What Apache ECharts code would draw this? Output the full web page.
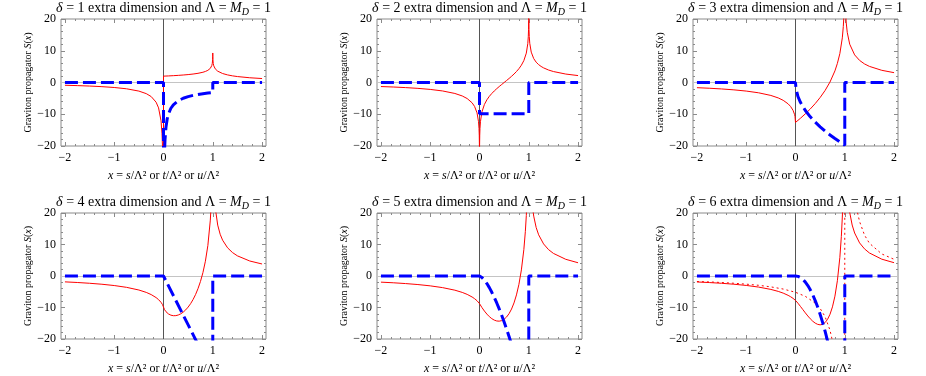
<!DOCTYPE html>
<html><head><meta charset="utf-8">
<script src="https://cdn.jsdelivr.net/npm/echarts@6/dist/echarts.min.js"></script>
<style>html,body{margin:0;padding:0;background:#fff}#c{width:926px;height:376px}</style>
</head><body><div id="c"></div>
<script>
// ---------------- data ----------------
const deltas = [1, 2, 3, 4, 5, 6];
const xTickLabels = [-2, -1, 0, 1, 2];
const yTickLabels = [-20, -10, 0, 10, 20];

// delta = 1
const re1 = [[-2,-0.870],[-1.75,-0.979],[-1.5,-1.118],[-1.25,-1.305],[-1,-1.571],[-0.75,-1.979],[-0.5,-2.702],[-0.35,-3.504],[-0.25,-4.428],[-0.15,-6.203],[-0.1,-7.997],[-0.05,-12.08],[-0.03,-16.16],[-0.02,-20.23],[-0.01,-29.4],[0,-60],[0,2.0],[0.02,2.014],[0.05,2.035],[0.1,2.071],[0.2,2.152],[0.3,2.246],[0.4,2.358],[0.5,2.493],[0.6,2.664],[0.7,2.891],[0.8,3.228],[0.85,3.479],[0.9,3.833],[0.95,4.462],[0.98,5.342],[0.99,6.017],[0.997,7.2],[0.999,8.29],[1,9.3],[1.001,8.29],[1.003,7.2],[1.01,5.96],[1.02,5.256],[1.05,4.300],[1.1,3.563],[1.2,2.820],[1.3,2.391],[1.4,2.094],[1.5,1.872],[1.75,1.492],[2,1.247]];
const im1 = [[-2,0],[0,0],[0,-60],[0.005,-44.4],[0.01,-31.4],[0.02,-22.2],[0.03,-18.14],[0.05,-14.05],[0.075,-11.47],[0.1,-9.93],[0.15,-8.11],[0.2,-7.02],[0.3,-5.74],[0.4,-4.97],[0.5,-4.44],[0.6,-4.06],[0.7,-3.75],[0.8,-3.51],[0.9,-3.31],[1,-3.14],[1,0],[2,0]];

// delta = 2
const re2 = [[-2,-1.274],[-1.75,-1.420],[-1.5,-1.605],[-1.25,-1.847],[-1,-2.178],[-0.75,-2.662],[-0.5,-3.451],[-0.35,-4.241],[-0.25,-5.056],[-0.15,-6.399],[-0.1,-7.533],[-0.05,-9.565],[-0.02,-12.352],[-0.01,-14.499],[-0.005,-16.66],[-0.002,-19.53],[0,-40],[0.002,-19.52],[0.005,-16.63],[0.01,-14.436],[0.02,-12.226],[0.05,-9.250],[0.1,-6.903],[0.15,-5.449],[0.2,-4.355],[0.25,-3.451],[0.3,-2.662],[0.35,-1.945],[0.4,-1.274],[0.45,-0.630],[0.5,0],[0.55,0.630],[0.6,1.274],[0.65,1.945],[0.7,2.662],[0.75,3.451],[0.8,4.355],[0.85,5.449],[0.9,6.903],[0.95,9.250],[0.98,12.226],[0.99,14.436],[0.995,16.63],[0.998,19.52],[1,40],[1.002,19.53],[1.005,16.66],[1.01,14.499],[1.02,12.352],[1.05,9.565],[1.1,7.533],[1.15,6.399],[1.2,5.629],[1.25,5.056],[1.3,4.607],[1.4,3.936],[1.5,3.451],[1.75,2.662],[2,2.178]];
const im2 = [[-2,0],[0,0],[0,-9.87],[1,-9.87],[1,0],[2,0]];

// delta = 3
const re3 = [[-2,-1.629],[-1.75,-1.807],[-1.5,-2.028],[-1.25,-2.314],[-1,-2.697],[-0.75,-3.239],[-0.5,-4.078],[-0.35,-4.861],[-0.25,-5.611],[-0.15,-6.720],[-0.1,-7.542],[-0.05,-8.771],[-0.02,-10.024],[-0.01,-10.719],[-0.005,-11.233],[0,-12.566],[0.005,-12.50],[0.02,-12.313],[0.05,-11.927],[0.1,-11.265],[0.2,-9.862],[0.3,-8.333],[0.4,-6.640],[0.5,-4.734],[0.6,-2.523],[0.7,0.149],[0.8,3.659],[0.85,6.014],[0.9,9.109],[0.95,14.067],[0.97,17.62],[0.98,20.33],[0.99,24.86],[1,40],[1.01,25.28],[1.02,21.12],[1.03,18.73],[1.05,15.80],[1.1,12.06],[1.2,8.696],[1.3,6.963],[1.4,5.854],[1.5,5.077],[1.75,3.839],[2,3.098]];
const im3 = [[-2,0],[0,0],[0.01,-1.974],[0.05,-4.414],[0.1,-6.242],[0.2,-8.828],[0.3,-10.81],[0.4,-12.48],[0.5,-13.96],[0.6,-15.29],[0.7,-16.52],[0.8,-17.66],[0.9,-18.73],[1,-19.74],[1,0],[2,0]];

// delta = 4
const re4 = [[-2,-1.865],[-1.75,-2.063],[-1.5,-2.308],[-1.25,-2.618],[-1,-3.029],[-0.75,-3.598],[-0.5,-4.448],[-0.35,-5.206],[-0.25,-5.898],[-0.15,-6.854],[-0.1,-7.503],[-0.05,-8.367],[-0.02,-9.094],[-0.01,-9.414],[0,-9.870],[0.01,-10.323],[0.02,-10.637],[0.05,-11.322],[0.1,-12.038],[0.15,-12.438],[0.2,-12.606],[0.25,-12.581],[0.3,-12.378],[0.35,-12.008],[0.4,-11.470],[0.45,-10.761],[0.5,-9.870],[0.55,-8.780],[0.6,-7.468],[0.65,-5.898],[0.7,-4.016],[0.75,-1.737],[0.8,1.076],[0.85,4.682],[0.9,9.648],[0.95,17.738],[0.97,23.41],[1,40],[1.03,26.08],[1.05,21.68],[1.1,16.163],[1.15,13.249],[1.2,11.350],[1.3,8.944],[1.4,7.441],[1.5,6.395],[1.75,4.765],[2,3.813]];
const im4 = [[-2,0],[0,0],[1,-31.01],[1,0],[2,0]];

// delta = 5
const re5 = [[-2,-1.951],[-1.75,-2.150],[-1.5,-2.404],[-1.25,-2.716],[-1,-3.125],[-0.75,-3.686],[-0.5,-4.503],[-0.35,-5.210],[-0.25,-5.835],[-0.15,-6.662],[-0.1,-7.194],[-0.05,-7.855],[-0.02,-8.353],[0,-8.773],[0.02,-9.289],[0.05,-10.022],[0.1,-11.133],[0.15,-12.096],[0.2,-12.904],[0.25,-13.546],[0.3,-14.010],[0.35,-14.279],[0.4,-14.336],[0.45,-14.164],[0.5,-13.731],[0.55,-13.007],[0.6,-11.945],[0.65,-10.487],[0.7,-8.555],[0.75,-5.998],[0.8,-2.643],[0.85,1.933],[0.9,8.396],[0.93,14.074],[0.95,19.217],[0.97,27.02],[1,40],[1.03,31.63],[1.05,25.98],[1.07,22.49],[1.1,19.009],[1.15,15.40],[1.2,13.082],[1.3,10.187],[1.4,8.389],[1.5,7.176],[1.75,5.298],[2,4.202]];
const im5 = [[-2,0],[0,0],[0.05,-0.462],[0.1,-1.307],[0.15,-2.402],[0.2,-3.698],[0.25,-5.168],[0.3,-6.793],[0.35,-8.561],[0.4,-10.459],[0.45,-12.48],[0.5,-14.616],[0.55,-16.863],[0.6,-19.214],[0.65,-21.666],[0.7,-24.21],[0.8,-29.58],[1,-41.34],[1,0],[2,0]];

// delta = 6
const re6 = [[-2,-1.890],[-1.75,-2.082],[-1.5,-2.315],[-1.25,-2.611],[-1,-2.994],[-0.75,-3.513],[-0.5,-4.258],[-0.35,-4.889],[-0.25,-5.435],[-0.15,-6.137],[-0.1,-6.573],[-0.05,-7.094],[0,-7.752],[0.05,-8.641],[0.1,-9.643],[0.15,-10.681],[0.2,-11.712],[0.25,-12.692],[0.3,-13.585],[0.35,-14.353],[0.4,-14.958],[0.45,-15.357],[0.5,-15.503],[0.55,-15.337],[0.6,-14.790],[0.65,-13.774],[0.7,-12.167],[0.75,-9.798],[0.8,-6.400],[0.85,-1.501],[0.9,5.887],[0.93,12.514],[0.95,18.717],[0.97,26.37],[1,40],[1.03,34.44],[1.05,28.01],[1.07,24.06],[1.1,20.177],[1.15,16.182],[1.2,13.646],[1.3,10.511],[1.4,8.612],[1.5,7.316],[1.75,5.345],[2,4.226]];
const dot6 = [[-2,-1.75],[-1.75,-1.88],[-1.5,-2.07],[-1.25,-2.3],[-1,-2.59],[-0.75,-2.95],[-0.5,-3.45],[-0.25,-4.14],[0,-5.17],[0.2,-6.46],[0.4,-8.62],[0.5,-10.3],[0.6,-12.9],[0.7,-17.2],[0.75,-20.7],[0.8,-25.8],[0.9,-51.7],[1,-80],[1,80],[1.1,51.7],[1.2,25.9],[1.25,20.7],[1.3,17.3],[1.4,13.0],[1.5,10.4],[1.75,7.0],[2,5.3]];
const im6 = [[-2,0],[0,0],[0.05,-0.122],[0.1,-0.487],[0.15,-1.096],[0.2,-1.948],[0.25,-3.044],[0.3,-4.383],[0.35,-5.966],[0.4,-7.793],[0.45,-9.863],[0.5,-12.18],[0.55,-14.73],[0.6,-17.53],[0.65,-20.58],[0.7,-23.87],[0.8,-31.17],[1,-48.7],[1,0],[2,0]];

const panels = [
  {re: re1, im: im1},
  {re: re2, im: im2},
  {re: re3, im: im3},
  {re: re4, im: im4},
  {re: re5, im: im5},
  {re: re6, im: im6, dot: dot6}
];

// ---------------- layout / style ----------------
const FONT = '"Liberation Serif","Times New Roman",serif';
const gridPos = [[61,19,127],[377,19,127],[693,19,127],[61,213,128],[377,213,128],[693,213,128]];
const GW = 205;
const XMIN = -2.08, XMAX = 2.08;
const FRAME = '#8a8a8a';
const minorX = [];
for (let k = -10; k <= 10; k++) { if (k % 5 !== 0) minorX.push(k / 5); }
const fmt = v => (v < 0 ? '\u2212' + Math.abs(v) : String(v));
const noLine = {show: false, onZero: false};

const grids = [], xAxes = [], yAxes = [], series = [], graphics = [];
panels.forEach((p, i) => {
  const [l, t, h] = gridPos[i];
  grids.push({left: l, top: t, width: GW, height: h, show: true, borderColor: FRAME, borderWidth: 1, backgroundColor: 'transparent'});
  const base = {gridIndex: i, type: 'value', min: XMIN, max: XMAX, splitLine: {show: false}, axisLine: noLine};
  const xi = xAxes.length;
  xAxes.push(Object.assign({}, base, {
    position: 'bottom',
    axisTick: {inside: true, length: 4, lineStyle: {color: FRAME}, customValues: xTickLabels},
    axisLabel: {customValues: xTickLabels, formatter: fmt, fontFamily: FONT, fontSize: 12, color: '#000', margin: 6},
    name: '{i|x} = {i|s}/\u039B\u00B2 or {i|t}/\u039B\u00B2 or {i|u}/\u039B\u00B2',
    nameLocation: 'middle', nameGap: 24,
    nameTextStyle: {fontFamily: FONT, fontSize: 12, color: '#000', rich: {i: {fontFamily: FONT, fontSize: 12, fontStyle: 'italic', color: '#000'}}}
  }));
  xAxes.push(Object.assign({}, base, {position: 'bottom', axisTick: {inside: true, length: 2, lineStyle: {color: FRAME}, customValues: minorX}, axisLabel: {show: false}}));
  xAxes.push(Object.assign({}, base, {position: 'top', axisTick: {inside: true, length: 4, lineStyle: {color: FRAME}, customValues: xTickLabels}, axisLabel: {show: false}}));
  xAxes.push(Object.assign({}, base, {position: 'top', axisTick: {inside: true, length: 2, lineStyle: {color: FRAME}, customValues: minorX}, axisLabel: {show: false}}));
  const ybase = {gridIndex: i, type: 'value', min: -20, max: 20, interval: 10, splitLine: {show: false}, axisLine: noLine,
    axisTick: {inside: true, length: 4, lineStyle: {color: FRAME}},
    minorTick: {show: true, splitNumber: 5, length: 2, lineStyle: {color: FRAME}}};
  const yi = yAxes.length;
  yAxes.push(Object.assign({}, ybase, {
    position: 'left',
    axisLabel: {formatter: fmt, fontFamily: FONT, fontSize: 12, color: '#000', margin: 5},
    name: 'Graviton propagator {i|S}({i|x})', nameLocation: 'middle', nameGap: 26,
    nameTextStyle: {fontFamily: FONT, fontSize: 10, color: '#000', rich: {i: {fontFamily: FONT, fontSize: 10, fontStyle: 'italic', color: '#000'}}}
  }));
  yAxes.push(Object.assign({}, ybase, {position: 'right', axisLabel: {show: false}}));

  series.push({
    type: 'line', xAxisIndex: xi, yAxisIndex: yi, data: p.re, showSymbol: false, symbol: 'none',
    lineStyle: {color: '#ff0000', width: 1}, clip: true, z: 2,
    markLine: {silent: true, symbol: ['none', 'none'], label: {show: false}, animation: false, z: 1,
      data: [{xAxis: 0, lineStyle: {color: '#555', width: 1, type: 'solid'}}, {yAxis: 0, lineStyle: {color: '#c4c4c4', width: 1, type: 'solid'}}]}
  });
  if (p.dot) {
    series.push({type: 'line', xAxisIndex: xi, yAxisIndex: yi, data: p.dot, showSymbol: false, symbol: 'none',
      lineStyle: {color: '#ff0000', width: 1, type: [2, 3]}, clip: true, z: 3});
  }
  series.push({type: 'line', xAxisIndex: xi, yAxisIndex: yi, data: p.im, showSymbol: false, symbol: 'none',
    lineStyle: {color: '#0000ff', width: 3, type: [13, 5]}, clip: true, z: 4});

  graphics.push({type: 'text', x: l + GW / 2, y: t - 11,
    style: {text: '{i|\u03B4} = ' + deltas[i] + ' extra dimension and \u039B = {i|M}{s|D} = 1',
      align: 'center', verticalAlign: 'middle', fontFamily: FONT, fontSize: 14, lineHeight: 18, fill: '#000',
      rich: {i: {fontFamily: FONT, fontSize: 14, fontStyle: 'italic', lineHeight: 18},
             s: {fontFamily: FONT, fontSize: 10, fontStyle: 'italic', lineHeight: 10, verticalAlign: 'bottom'}}}});
});

const chart = echarts.init(document.getElementById('c'), null, {renderer: 'canvas'});
chart.setOption({
  animation: false,
  backgroundColor: '#fff',
  grid: grids, xAxis: xAxes, yAxis: yAxes, series: series, graphic: graphics
});
</script></body></html>
